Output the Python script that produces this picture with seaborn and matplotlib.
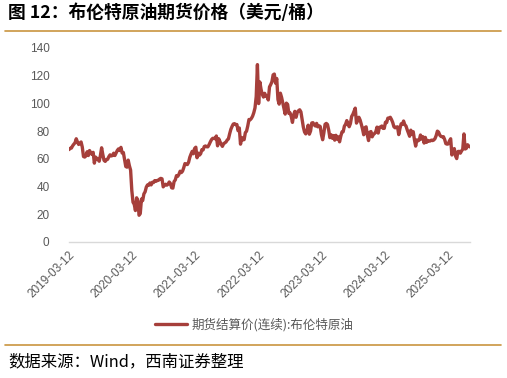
import matplotlib
matplotlib.use("Agg")
import matplotlib.pyplot as plt
import matplotlib.lines as mlines
import seaborn as sns
import pandas as pd
import numpy as np

# Weekly Brent settlement prices (USD/bbl)
start_2019 = "2019-03-12"
brent_2019 = [66.7, 67.6, 67.8,
              69.4, 70.6, 71.6, 74.5, 72.2,
              70.4, 71.2, 72.2, 68.5,
              61.7, 61.3, 62.1, 65.1,
              62.4, 66.0, 64.4, 63.2, 64.7,
              56.9, 61.3, 60.3, 59.5,
              58.3, 62.4, 68.0, 63.1,
              58.9, 58.2, 59.4, 59.7, 61.6,
              62.9, 62.1, 62.4, 64.1,
              62.4, 64.3, 66.1, 67.2, 66.0]
start_2020 = "2020-01-07"
brent_2020 = [68.3, 64.2, 64.6, 59.5,
              54.5, 54.0, 59.1, 55.0,
              51.9, 37.2, 28.7, 27.2, 22.7,
              31.9, 29.6, 19.3, 20.5,
              31.0, 29.9, 34.7, 36.2,
              39.6, 41.2, 40.9, 42.6, 41.2,
              43.1, 42.9, 44.3, 43.8,
              44.4, 44.5, 45.4, 45.9,
              45.6, 39.8, 41.0, 41.7, 41.0,
              41.7, 43.3, 42.2, 39.1,
              38.9, 43.6, 44.8, 47.9,
              47.4, 48.8, 51.1, 50.1, 51.1]
start_2021 = "2021-01-05"
brent_2021 = [53.6, 56.6, 56.0, 55.9,
              57.5, 61.1, 63.4, 65.4,
              63.7, 67.5, 68.4, 60.8, 64.1,
              62.7, 63.7, 66.6, 66.4,
              68.9, 69.3, 68.7, 68.7,
              70.3, 72.2, 73.9, 74.8, 74.8,
              74.5, 76.5, 69.4, 74.5,
              72.4, 70.6, 69.0, 70.9, 71.6,
              72.2, 73.6, 74.4, 78.1,
              81.3, 83.4, 85.1, 85.4,
              84.7, 84.8, 80.3, 82.3, 70.6,
              75.4, 73.7, 73.9, 78.9]
start_2022 = "2022-01-04"
brent_2022 = [80.0, 83.7, 88.4, 88.2,
              89.2, 90.8, 93.3, 96.8,
              105.0, 128.0, 99.9, 115.5, 110.2,
              106.6, 104.6, 107.3, 105.3,
              105.0, 102.5, 111.9, 113.6, 115.6,
              120.6, 121.2, 114.6, 118.0,
              102.8, 99.5, 107.4, 104.4,
              100.5, 96.3, 92.3, 100.2, 99.3,
              92.8, 93.2, 90.6, 86.3,
              91.8, 94.3, 90.0, 93.5,
              94.7, 95.4, 93.9, 88.4, 83.0,
              79.4, 78.0, 79.8, 84.3]
start_2023 = "2023-01-03"
brent_2023 = [77.8, 80.1, 85.9, 86.1, 84.5,
              83.7, 85.6, 83.1, 83.9,
              83.3, 77.5, 73.8, 78.7,
              84.9, 85.6, 84.8, 80.8,
              75.3, 77.4, 74.9, 76.8, 73.5,
              77.0, 74.3, 75.9, 72.3,
              76.3, 79.4, 79.6, 83.6,
              85.0, 87.6, 84.9, 83.2, 85.5,
              90.6, 92.1, 94.3, 96.6,
              85.8, 87.7, 90.0, 88.1, 85.0,
              81.6, 77.4, 82.5, 83.1,
              77.2, 73.2, 79.2, 79.7]
start_2024 = "2024-01-02"
brent_2024 = [75.9, 77.6, 78.3, 79.6, 82.9,
              78.6, 82.8, 83.0, 83.7,
              82.0, 82.0, 86.4, 86.2,
              89.4, 89.4, 90.0, 88.4, 86.3,
              83.2, 82.4, 82.9, 83.1,
              77.5, 81.9, 85.3, 85.0,
              87.3, 84.7, 83.7, 81.0, 78.6,
              76.3, 80.7, 77.7, 79.6,
              73.8, 69.2, 73.7, 73.0,
              73.6, 77.2, 74.3, 76.0, 71.4,
              75.5, 71.9, 73.3, 72.8,
              72.9, 73.5, 73.2, 73.6, 74.6]
start_2025 = "2025-01-07"
brent_2025 = [76.8, 80.0, 79.3, 77.1,
              76.2, 75.9, 76.0, 74.0,
              71.0, 70.6, 70.8, 73.0,
              74.5, 62.8, 64.9, 67.4, 62.1,
              60.2, 65.3, 65.4, 64.1,
              65.7, 67.0, 78.0, 67.1,
              67.6, 70.2, 69.2, 68.6]

tick_labels = ["2019-03-12", "2020-03-12", "2021-03-12", "2022-03-12",
               "2023-03-12", "2024-03-12", "2025-03-12"]
y_ticks = [0, 20, 40, 60, 80, 100, 120, 140]
series_name = "期货结算价(连续):布伦特原油"
title = "图 12：布伦特原油期货价格（美元/桶）"
source = "数据来源：Wind，西南证券整理"

frames = []
for s, v in [(start_2019, brent_2019), (start_2020, brent_2020), (start_2021, brent_2021),
             (start_2022, brent_2022), (start_2023, brent_2023), (start_2024, brent_2024),
             (start_2025, brent_2025)]:
    frames.append(pd.DataFrame({"date": pd.date_range(s, periods=len(v), freq="7D"),
                                "price": v}))
df = pd.concat(frames, ignore_index=True)

sns.set_theme(style="white")
plt.rcParams["font.family"] = ["Liberation Sans", "Noto Sans CJK SC", "DejaVu Sans"]
CJK = ["Noto Sans CJK SC", "DejaVu Sans"]

line_color = "#A63F3B"
gold = "#C9953F"
grey = "#595959"

fig = plt.figure(figsize=(5.07, 3.78), dpi=100)
ax = fig.add_axes([69 / 507, 1 - 242 / 378, (470 - 69) / 507, (242 - 48) / 378])

sns.lineplot(data=df, x="date", y="price", ax=ax, color=line_color, linewidth=2.4,
             legend=False)

ax.set_xlim(df["date"].iloc[0], df["date"].iloc[-1])
ax.set_ylim(0, 140)
ax.set_yticks(y_ticks)
ax.set_yticklabels([str(t) for t in y_ticks], color=grey, fontsize=8.5)
xt = pd.to_datetime(tick_labels)
ax.set_xticks(xt)
ax.set_xticklabels(tick_labels, rotation=45, ha="right", rotation_mode="anchor",
                   color=grey, fontsize=8.5)
ax.set_xlabel("")
ax.set_ylabel("")
for s in ["left", "right", "top"]:
    ax.spines[s].set_visible(False)
ax.spines["bottom"].set_color("#D9D9D9")
ax.spines["bottom"].set_linewidth(1.0)
ax.tick_params(axis="x", which="both", length=3, color="#D9D9D9", pad=2)
ax.tick_params(axis="y", length=0, pad=14)
ax.grid(False)

handle = mlines.Line2D([], [], color=line_color, linewidth=2.4)
fig.legend([handle], [series_name], loc="center", bbox_to_anchor=(254 / 507, 1 - 325 / 378),
           frameon=False, prop={"family": CJK, "size": 9}, handlelength=2.6,
           handletextpad=0.3, labelcolor=grey)

fig.text(8 / 507, 1 - 13 / 378, title, fontsize=12.8, fontweight="bold", family=CJK,
         va="center", ha="left", color="black")
fig.add_artist(mlines.Line2D([5 / 507, 501 / 507], [1 - 31 / 378, 1 - 31 / 378],
                             color=gold, linewidth=1.2))
fig.add_artist(mlines.Line2D([5 / 507, 501 / 507], [1 - 345 / 378, 1 - 345 / 378],
                             color=gold, linewidth=1.2))
fig.text(8 / 507, 1 - 362 / 378, source, fontsize=11.8, style="italic", family=CJK,
         va="center", ha="left", color="black")

fig.savefig("out.png", dpi=100)
